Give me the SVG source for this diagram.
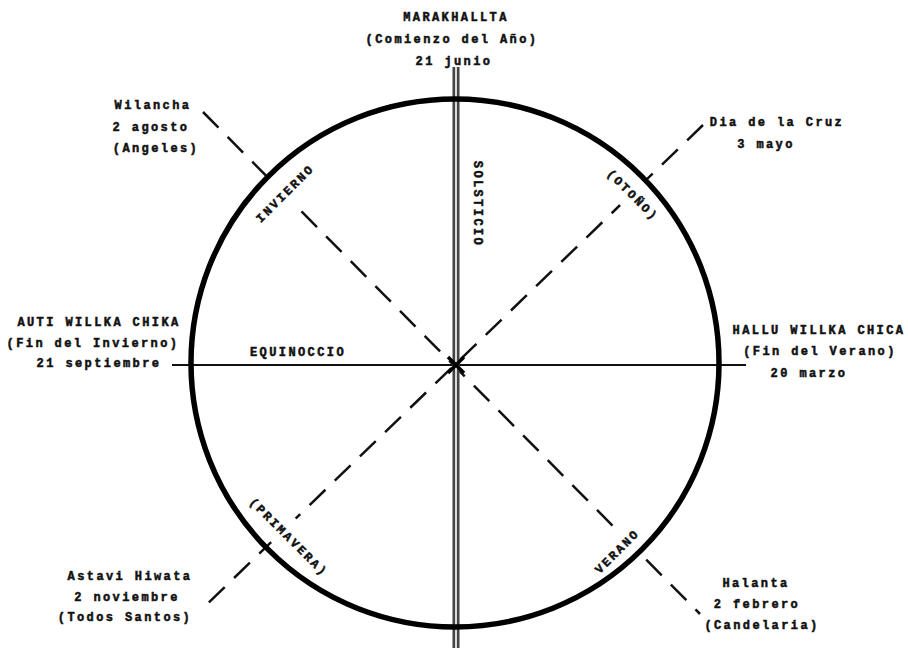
<svg xmlns="http://www.w3.org/2000/svg" width="908" height="652" viewBox="0 0 908 652">
<style>
text{font-family:"Liberation Mono","DejaVu Sans Mono",monospace;font-size:12px;font-weight:bold;letter-spacing:2.4px;fill:#111;stroke:#111;stroke-width:0.5;text-anchor:middle}
.dash{stroke:#111;stroke-width:2.5;stroke-dasharray:22 13;fill:none}
</style>
<defs>
<mask id="gaps">
<rect width="908" height="652" fill="#fff"/>
<rect x="-46" y="-22" width="92" height="34" fill="#000" transform="translate(288,196) rotate(-45)"/>
<rect x="-40" y="-22" width="80" height="34" fill="#000" transform="translate(630,198) rotate(45)"/>
<rect x="-58" y="-22" width="116" height="34" fill="#000" transform="translate(286,540) rotate(45)"/>
<rect x="-34" y="-22" width="68" height="34" fill="#000" transform="translate(621,554) rotate(-45)"/>
</mask>
</defs>
<rect width="908" height="652" fill="#fff"/>
<g id="connectors">
<g mask="url(#gaps)">
<line class="dash" x1="203" y1="112" x2="700" y2="614"/>
<line class="dash" x1="703" y1="125" x2="203" y2="608"/>
</g>
<line x1="172" y1="365" x2="746" y2="365" stroke="#111" stroke-width="2"/>
<line x1="456" y1="67" x2="456" y2="648" stroke="#444" stroke-width="7"/>
<line x1="456" y1="67" x2="456" y2="648" stroke="#fff" stroke-width="1.6"/>
<path d="M448 357L464 373M464 357L448 373" stroke="#000" stroke-width="3.5"/>
</g>
<g id="circle"><circle cx="455" cy="363" r="264" fill="none" stroke="#000" stroke-width="5.5"/></g>
<g id="top"><text x="456" y="21">MARAKHALLTA</text><text x="452" y="43">(Comienzo del Año)</text><text x="454" y="65">21 junio</text></g>
<g id="nw"><text x="153" y="109">Wilancha</text><text x="151" y="131">2 agosto</text><text x="156" y="152">(Angeles)</text></g>
<g id="ne"><text x="777" y="126">Dia de la Cruz</text><text x="766" y="148">3 mayo</text></g>
<g id="w"><text x="99" y="326">AUTI WILLKA CHIKA</text><text x="93" y="347">(Fin del Invierno)</text><text x="99" y="367">21 septiembre</text></g>
<g id="e"><text x="819" y="334">HALLU WILLKA CHICA</text><text x="820" y="355">(Fin del Verano)</text><text x="809" y="377">20 marzo</text></g>
<g id="sw"><text x="130" y="580">Astavi Hiwata</text><text x="127" y="601">2 noviembre</text><text x="125" y="621">(Todos Santos)</text></g>
<g id="se"><text x="756" y="587">Halanta</text><text x="757" y="608">2 febrero</text><text x="762" y="629">(Candelaria)</text></g>
<g id="labels">
<text transform="translate(288,196) rotate(-45)">INVIERNO</text>
<text transform="translate(630,198) rotate(45)">(OTOÑO)</text>
<text transform="translate(474,204) rotate(90)">SOLSTICIO</text>
<text x="298" y="356">EQUINOCCIO</text>
<text transform="translate(286,540) rotate(45)">(PRIMAVERA)</text>
<text transform="translate(620,554) rotate(-45)">VERANO</text>
</g>
</svg>
